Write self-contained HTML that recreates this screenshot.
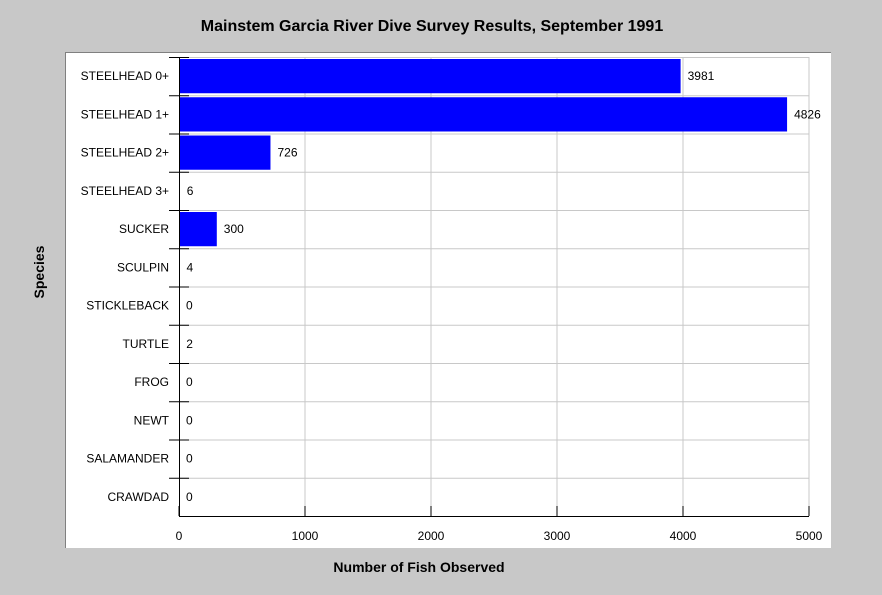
<!DOCTYPE html>
<html><head><meta charset="utf-8"><style>
body{margin:0;background:#c8c8c8;}
svg{display:block;font-family:"Liberation Sans",sans-serif;}
</style></head><body>
<svg width="882" height="595">
<rect x="0" y="0" width="882" height="595" fill="#c8c8c8"/>
<rect x="65" y="52" width="766" height="496" fill="#fff"/>
<line x1="65" y1="52.5" x2="831" y2="52.5" stroke="#808080"/>
<line x1="65.5" y1="52" x2="65.5" y2="548" stroke="#808080"/>
<text x="432" y="31" text-anchor="middle" font-size="16" font-weight="bold">Mainstem Garcia River Dive Survey Results, September 1991</text>
<text x="419" y="572" text-anchor="middle" font-size="14" font-weight="bold">Number of Fish Observed</text>
<text x="44" y="272" text-anchor="middle" font-size="14" font-weight="bold" transform="rotate(-90 44 272)">Species</text>
<g id="grid"></g><g id="bars"></g><g id="axes"></g>
</svg>
<script>
const categories=["STEELHEAD 0+","STEELHEAD 1+","STEELHEAD 2+","STEELHEAD 3+","SUCKER","SCULPIN","STICKLEBACK","TURTLE","FROG","NEWT","SALAMANDER","CRAWDAD"];
const values=[3981,4826,726,6,300,4,0,2,0,0,0,0];
const xTicks=[0,1000,2000,3000,4000,5000];
const NS="http://www.w3.org/2000/svg";
const L=179,R=809,T=57,B=516,xMax=5000;
const rowH=(B-T)/categories.length;
const xs=v=>L+(R-L)*v/xMax;
function mk(g,tag,a){const e=document.createElementNS(NS,tag);for(const k in a)e.setAttribute(k,a[k]);document.getElementById(g).appendChild(e);return e;}
xTicks.forEach((t,i)=>{
 if(i>0){const l=mk('grid','line',{x1:xs(t),x2:xs(t),y1:T,y2:B,stroke:'#c8c8c8'});
 
 }
 const tk=mk('axes','line',{x1:xs(t),x2:xs(t),y1:B-10,y2:B,stroke:'#000'});
 
 
 const tx=mk('axes','text',{x:xs(t),y:B+24,'text-anchor':'middle','font-size':12});
 tx.textContent=t;
 
 
});
categories.forEach((c,i)=>{
 const y0=T+i*rowH;
 const g=mk('grid','line',{x1:L,x2:R,y1:y0+0.5,y2:y0+0.5,stroke:'#c8c8c8'});
 
 
 const tk=mk('axes','line',{x1:169,x2:189,y1:y0+0.5,y2:y0+0.5,stroke:'#000'});
 
 
 const w=xs(values[i])-L;
 if(w>0){const b=mk('bars','rect',{x:L,y:y0+2,width:w,height:rowH-4,fill:'#0000ff'});
 
 }
 const v=mk('bars','text',{x:xs(values[i])+7,y:y0+rowH/2+4,'font-size':12});
 v.textContent=values[i];
 
 
 const lb=mk('axes','text',{x:169,y:y0+rowH/2+4,'text-anchor':'end','font-size':12});
 lb.textContent=c;
 
 
});
const ya=mk('axes','line',{x1:L+0.5,x2:L+0.5,y1:T,y2:B,stroke:'#000'});


const xa=mk('axes','line',{x1:L,x2:R,y1:B+0.5,y2:B+0.5,stroke:'#000'});


</script>
</body></html>
